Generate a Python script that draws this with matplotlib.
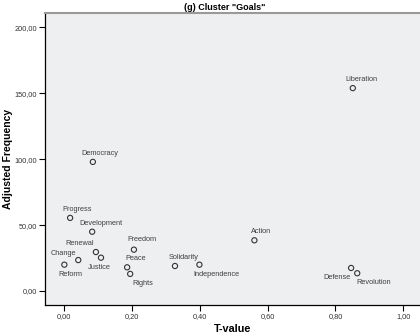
import matplotlib
matplotlib.use("Agg")
import matplotlib.pyplot as plt

plt.rcParams["font.family"] = ["Liberation Sans", "DejaVu Sans"]

words = ["Democracy", "Liberation", "Progress", "Development", "Renewal", "Change",
         "Reform", "Justice", "Freedom", "Peace", "Rights", "Solidarity",
         "Independence", "Action", "Defense", "Revolution"]
t_value = [0.085, 0.851, 0.018, 0.083, 0.094, 0.042, 0.001, 0.109, 0.206, 0.186,
           0.195, 0.327, 0.399, 0.561, 0.846, 0.864]
adj_freq = [98.0, 154.0, 55.5, 45.0, 29.6, 23.5, 20.0, 25.3, 31.4, 18.0,
            13.0, 19.0, 20.0, 38.5, 17.5, 13.5]
# label offsets in points (dx, dy)
offsets = {
    "Democracy": (5, 6), "Liberation": (6, 6), "Progress": (5, 6),
    "Development": (6, 6), "Renewal": (-12, 6), "Change": (-11, 5),
    "Reform": (4, -7), "Justice": (-1, -7), "Freedom": (6, 7),
    "Peace": (6, 6), "Rights": (9, -7), "Solidarity": (6, 6),
    "Independence": (12, -7), "Action": (5, 6), "Defense": (-10, -7),
    "Revolution": (12, -7),
}
xticks = [0.0, 0.2, 0.4, 0.6, 0.8, 1.0]
yticks = [0, 50, 100, 150, 200]

fig = plt.figure(figsize=(4.2, 3.36), dpi=100)
ax = fig.add_axes([45/420, 1 - 305/336, 375/420, 292/336])
ax.set_facecolor("#eeeff1")
ax.scatter(t_value, adj_freq, s=14, facecolors="none", edgecolors="#333333",
           linewidths=0.8, zorder=3)
for w, x, y in zip(words, t_value, adj_freq):
    dx, dy = offsets[w]
    ax.annotate(w, (x, y), xytext=(dx, dy), textcoords="offset points",
                ha="center", va="center", fontsize=5.3, color="#404040")

ax.set_xlim(-0.056, 1.049)
ax.set_ylim(-10.6, 211)
ax.set_xticks(xticks)
ax.set_xticklabels([f"{v:.2f}".replace(".", ",") for v in xticks])
ax.set_yticks(yticks)
ax.set_yticklabels([f"{v:.2f}".replace(".", ",") for v in yticks])
ax.tick_params(labelsize=5.3, length=4, width=0.8, pad=1.5, colors="#000000",
               labelcolor="#333333")
for s in ["left", "bottom"]:
    ax.spines[s].set_color("#000000")
    ax.spines[s].set_linewidth(0.9)
ax.spines["right"].set_visible(False)
ax.spines["top"].set_color("#999999")
ax.spines["top"].set_linewidth(1.5)
ax.set_xlabel("T-value", fontsize=7.8, fontweight="bold", labelpad=3)
ax.set_ylabel("Adjusted Frequency", fontsize=7.5, fontweight="bold", labelpad=1.5)
ax.set_title('(g) Cluster "Goals"', fontsize=6.5, fontweight="bold", pad=2, x=0.479)
fig.savefig("out.png", dpi=100)
